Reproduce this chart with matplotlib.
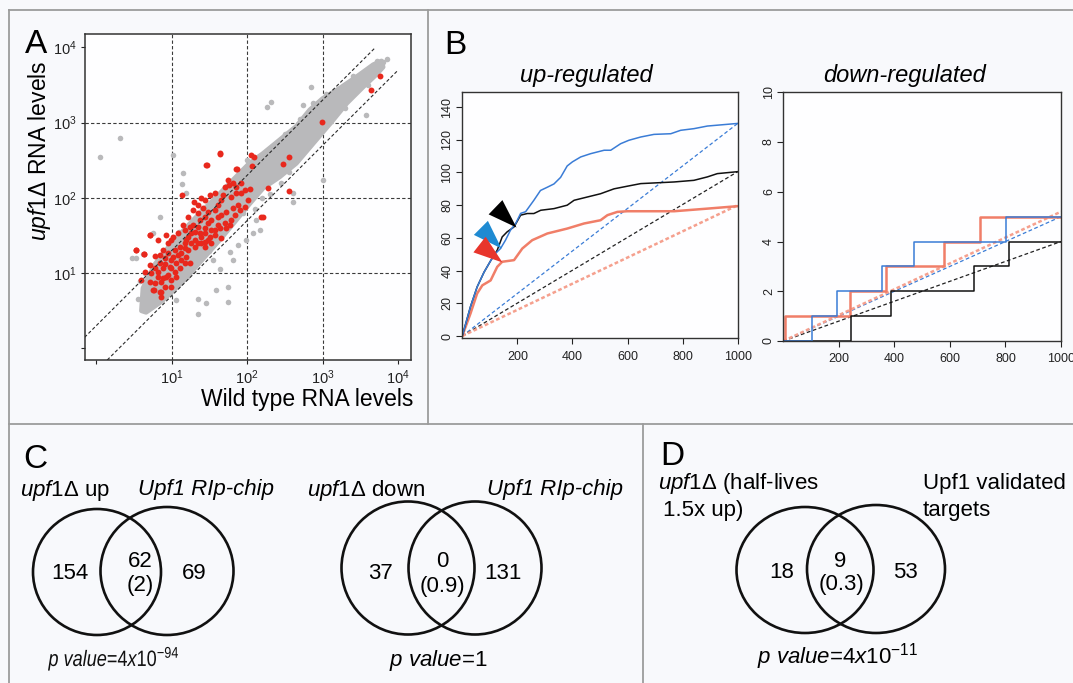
import numpy as np
import matplotlib.pyplot as plt
from matplotlib.patches import Ellipse, PathPatch
from matplotlib.markers import MarkerStyle
from matplotlib.path import Path
from matplotlib.textpath import TextPath
from matplotlib.font_manager import FontProperties
from matplotlib.transforms import Affine2D

plt.rcParams['font.family'] = ['Liberation Sans', 'DejaVu Sans']
plt.rcParams['mathtext.fontset'] = 'custom'
plt.rcParams['mathtext.rm'] = 'Liberation Sans'
plt.rcParams['mathtext.it'] = 'Liberation Sans:italic'
plt.rcParams['mathtext.bf'] = 'Liberation Sans:bold'
plt.rcParams['mathtext.sf'] = 'Liberation Sans'

W, H = 1073, 683
BG = '#F8F9FC'

# ---------------- Panel A: scatter (log10 values) ----------------
band_upper_logx = [0.60, 0.62, 0.78, 1.00, 1.30, 1.60, 2.03, 2.21, 2.43, 2.65, 2.83, 3.00, 3.23, 3.45, 3.67, 3.78]
band_upper_logy = [0.50, 0.80, 1.12, 1.40, 1.72, 2.02, 2.46, 2.59, 2.77, 2.95, 3.17, 3.32, 3.46, 3.61, 3.77, 3.82]
band_lower_logx = [3.80, 3.71, 3.54, 3.32, 3.10, 2.87, 2.65, 2.43, 2.21, 2.03, 1.85, 1.66, 1.44, 1.13, 0.86, 0.66]
band_lower_logy = [3.74, 3.64, 3.48, 3.26, 2.99, 2.72, 2.46, 2.28, 2.13, 1.92, 1.70, 1.47, 1.22, 0.87, 0.62, 0.48]

gray_logx = [0.045, 0.31, 0.53, 1.13, 1.02, 1.35, 1.75, 1.35, 2.26, 2.32, 2.85, 2.74, 3.58, 3.80,
             2.61, 2.61, 2.12, 2.17, 1.81, 1.64, 1.55, 1.06, 3.00, 1.48, 0.75, 0.84, 0.47, 0.62,
             1.99, 2.08, 1.77, 1.88, 1.15, 1.19, 2.87, 1.75, 1.59, 1.46,
             0.55, 0.58, 0.70, 0.90, 1.20, 1.50, 1.70, 1.90, 2.10, 2.30, 2.50, 2.55, 2.70, 2.95,
             3.05, 3.30, 3.40, 3.60, 3.72, 3.85, 2.00, 1.40, 1.10, 0.65, 2.40, 1.95, 2.20, 2.45]
gray_logy = [2.55, 2.80, 1.20, 2.19, 2.57, 0.45, 0.62, 0.65, 3.21, 3.28, 3.48, 3.23, 3.10, 3.81,
             1.95, 2.06, 1.70, 1.57, 1.17, 1.06, 1.17, 0.64, 2.24, 1.79, 1.53, 1.75, 1.20, 1.26,
             1.44, 1.53, 1.28, 1.37, 2.33, 2.06, 3.26, 0.82, 0.77, 0.60,
             0.65, 0.90, 0.55, 1.30, 0.95, 1.30, 1.95, 2.25, 1.85, 2.05, 2.85, 2.35, 3.05, 2.85,
             3.38, 3.20, 3.62, 3.50, 3.82, 3.85, 2.50, 1.85, 1.55, 1.00, 2.45, 1.80, 2.00, 2.20]

red_logx = [1.636, 1.468, 1.857, 2.056, 2.070, 1.141, 1.296, 1.393, 1.747, 1.756, 1.857, 1.924,
            1.968, 2.034, 1.857, 1.791, 1.658, 1.614, 1.570, 1.482, 1.415, 1.349, 1.437, 1.526,
            1.658, 1.725, 1.813, 1.791, 1.703, 1.614, 1.526, 1.437, 1.349, 1.260, 1.216, 1.305,
            1.393, 1.482, 1.570, 1.658, 1.172, 1.106, 1.039, 1.128, 1.216, 1.305, 1.393, 0.995,
            0.929, 0.818, 0.708, 0.531, 0.633, 0.774, 0.907, 0.995, 1.062, 0.973, 0.885, 0.818,
            0.951, 1.039, 1.128, 1.194, 0.730, 0.774, 0.863, 0.907, 0.752, 0.840, 0.995, 0.929,
            1.062, 2.189, 1.282, 1.194, 1.437, 1.238, 1.680, 1.482, 1.371, 1.614,
            2.99, 3.76, 3.64, 2.56, 2.47, 2.28, 2.56, 2.21, 2.09, 0.53, 0.63, 0.71, 0.76, 0.86,
            1.46, 1.64, 1.86,
            1.172, 1.238, 1.305, 1.371, 1.437, 1.504, 1.570, 1.636, 1.725, 1.769, 1.835, 1.901,
            1.968, 2.012, 1.879, 1.924, 1.813, 1.703, 1.570, 1.504, 1.437, 1.349, 1.282, 1.216,
            1.150, 1.084, 1.017, 0.951, 0.885, 0.840, 0.951, 1.017, 1.084, 1.172, 1.260, 1.349,
            1.437, 1.526, 0.840, 0.907, 0.995, 1.106, 1.172, 0.774, 0.708, 0.642, 0.818, 0.885,
            0.995, 0.863, 0.708, 0.597]
red_logy = [2.600, 2.440, 2.383, 2.570, 2.423, 2.038, 1.940, 1.993, 2.237, 2.171, 2.148, 2.193,
            2.104, 2.113, 2.060, 2.015, 1.971, 1.905, 1.838, 1.816, 1.860, 1.794, 1.750, 1.705,
            1.772, 1.816, 1.860, 1.705, 1.661, 1.639, 1.572, 1.594, 1.617, 1.528, 1.484, 1.439,
            1.484, 1.439, 1.506, 1.461, 1.395, 1.350, 1.306, 1.262, 1.306, 1.350, 1.395, 1.439,
            1.506, 1.439, 1.506, 1.306, 1.249, 1.231, 1.195, 1.173, 1.129, 1.085, 1.062, 1.018,
            0.974, 1.018, 1.173, 1.218, 0.996, 0.863, 0.885, 0.819, 0.774, 0.752, 0.907, 0.951,
            0.951, 1.750, 1.639, 1.439, 1.350, 1.129, 2.038, 1.661, 1.705, 1.750,
            3.01, 3.62, 3.43, 2.55, 2.45, 2.13, 2.09, 1.75, 2.55, 1.31, 1.25, 1.51, 0.77, 0.75,
            2.44, 2.59, 2.39,
            1.572, 1.617, 1.550, 1.528, 1.528, 1.484, 1.572, 1.594, 1.594, 1.639, 1.772, 1.838,
            1.882, 1.971, 1.905, 2.060, 2.193, 2.148, 2.060, 2.038, 1.971, 1.905, 1.838, 1.750,
            1.639, 1.528, 1.484, 1.395, 1.306, 1.240, 1.262, 1.218, 1.240, 1.328, 1.395, 1.395,
            1.417, 1.395, 1.129, 1.120, 1.062, 1.062, 1.129, 1.062, 1.107, 1.018, 0.952, 0.929,
            0.819, 0.686, 0.885, 0.907]

fold_x = [[0.7, 5000], [1.4, 10000]]
fold_y = [[1.4, 10000], [0.7, 5000]]
grid_levels = [10, 100, 1000]
log_ticks = [1, 10, 100, 1000, 10000]
log_labels = ['', '$10^1$', '$10^2$', '$10^3$', '$10^4$']

# ---------------- Panel B: cumulative overlap curves ----------------
up_blue_x = [0, 30, 54, 79, 103, 121, 139, 157, 175, 194, 212, 230, 260, 284, 309, 333, 357, 381, 400,
             430, 466, 515, 539, 575, 605, 648, 696, 757, 793, 841, 890, 1000]
up_blue_y = [0, 18, 30, 39, 46, 50.5, 53.5, 58.6, 64.7, 68.8, 75, 76, 83, 89, 91, 93, 97, 104, 106.5,
             109.5, 111.5, 113.6, 113.6, 117.6, 119.7, 121.7, 123.3, 123.7, 125.8, 126.8, 128.4, 130]
up_black_x = [0, 30, 54, 79, 103, 127, 145, 163, 188, 212, 236, 260, 285, 333, 381, 406, 454, 502,
              551, 599, 648, 769, 841, 890, 926, 1000]
up_black_y = [0, 18, 30, 39, 46, 52.5, 60.6, 63.7, 66.7, 73.9, 74.9, 74.9, 76.9, 77.9, 80, 83, 85, 87,
              90, 91.6, 93.2, 94.2, 95.2, 97.3, 99.3, 100.5]
up_red_x = [0, 30, 54, 73, 103, 127, 145, 188, 218, 254, 309, 381, 442, 502, 527, 563, 599, 769, 890, 1000]
up_red_y = [0, 13.8, 26, 31, 34, 42.3, 45.4, 46.4, 53.5, 58.6, 62.7, 65.7, 68.8, 70.8, 73.9, 75.9,
            76.3, 76.3, 77.9, 79.4]
up_expected_end = [130, 100.5, 80]          # blue, black, salmon at rank 1000

arrow_tip_x = [194, 142, 145]
arrow_tip_y = [66.7, 53.9, 45.4]
arrow_angle = [-44, -45, -38]

down_red_x = [0, 6, 240, 370, 580, 709, 1000]
down_red_y = [0, 1, 2, 3, 4, 5, 5]
down_blue_x = [0, 104, 195, 356, 471, 802, 1000]
down_blue_y = [0, 1, 2, 3, 4, 5, 5]
down_black_x = [0, 244, 388, 685, 814, 1000]
down_black_y = [0, 1, 2, 3, 4, 4]
down_expected_end = [5.0, 4.0, 5.2]         # blue, black, salmon at rank 1000

# ---------------- Panels C/D: Venn counts ----------------
venn_only_left = ['154', '37', '18']
venn_overlap = ['62', '0', '9']
venn_expected = ['(2)', '(0.9)', '(0.3)']
venn_only_right = ['69', '131', '53']
venn_pvalue = ['$\\mathit{p\\ value}$=$\\mathit{4x10^{-94}}$', '$\\mathit{p\\ value}$=$\\mathit{1}$',
               '$\\mathit{p\\ value}$=$\\mathit{4x10^{-11}}$']
venn_pvalue_width = [130, None, None]       # the first one is set narrower in the original

BLUE = '#3A7CD6'
SALMON = '#F07E68'
GRAY = '#B9B9BB'
RED = '#E8281D'

fig = plt.figure(figsize=(W / 100, H / 100), dpi=100, facecolor=BG)


def fig_rect(left, top, right, bottom):
    return [left / W, 1 - bottom / H, (right - left) / W, (bottom - top) / H]


# overlay in pixel coordinates for frames, letters and Venn diagrams
ov = fig.add_axes([0, 0, 1, 1], zorder=0)
ov.set_xlim(0, W)
ov.set_ylim(H, 0)
ov.set_axis_off()


def condensed_text(xc, baseline, s, size_pt, width_px):
    tp = TextPath((0, 0), s, size=size_pt * 100 / 72, prop=FontProperties(family='Liberation Sans'))
    ext = tp.get_extents()
    sx = width_px / ext.width
    tr = Affine2D().translate(-(ext.x0 + ext.width / 2), 0).scale(sx, -1).translate(xc, baseline)
    ov.add_patch(PathPatch(tr.transform_path(tp), fc='#111111', ec='none'))


frame_kw = dict(color='#9C9C9C', lw=1.3)
ov.plot([9, W], [10, 10], **frame_kw)
ov.plot([9, 9], [10, H], **frame_kw)
ov.plot([9, W], [424, 424], **frame_kw)
ov.plot([428, 428], [10, 424], **frame_kw)
ov.plot([643, 643], [424, H], **frame_kw)

for letter, lx, ly in [('A', 25, 53), ('B', 444, 54), ('C', 23, 468), ('D', 660, 465)]:
    ov.text(lx, ly, letter, fontsize=24, ha='left', va='baseline')

# ---- Panel A ----
axA = fig.add_axes(fig_rect(85, 34, 411, 360), zorder=1)
axA.set_facecolor('#FEFEFF')
axA.set_xscale('log')
axA.set_yscale('log')
axA.set_xlim(0.71, 14800)
axA.set_ylim(0.70, 15100)

band_x = 10 ** np.concatenate([band_upper_logx, band_lower_logx])
band_y = 10 ** np.concatenate([band_upper_logy, band_lower_logy])
axA.fill(band_x, band_y, facecolor=GRAY, edgecolor=GRAY, lw=3.5, joinstyle='round', zorder=2)
axA.scatter(10 ** np.array(gray_logx), 10 ** np.array(gray_logy), s=16, color=GRAY, lw=0, zorder=2)
axA.scatter(10 ** np.array(red_logx), 10 ** np.array(red_logy), s=18, color=RED, lw=0, zorder=3)

for g in grid_levels:
    axA.axvline(g, color='#3A3A3A', lw=0.8, ls=(0, (3, 2)), zorder=1)
    axA.axhline(g, color='#3A3A3A', lw=0.8, ls=(0, (3, 2)), zorder=1)
for fx, fy in zip(fold_x, fold_y):
    axA.plot(fx, fy, color='#2A2A2A', lw=0.8, ls=(0, (3, 2)), zorder=4)

axA.set_xticks(log_ticks)
axA.set_xticklabels(log_labels)
axA.set_yticks(log_ticks)
axA.set_yticklabels(log_labels)
axA.minorticks_off()
axA.tick_params(labelsize=10.5, length=3, width=0.8, pad=3, colors='#222222')
for sp in axA.spines.values():
    sp.set_color('#333333')
    sp.set_linewidth(1.1)

ov.text(40, 151, '$\\mathit{upf1}$\u0394 RNA levels', fontsize=16.5, rotation=90,
        ha='center', va='center')
ov.text(413, 406, 'Wild type RNA levels', fontsize=16.5, ha='right', va='baseline')

# ---- Panel B ----
tri = Path([(0, 0), (-1, 0.34), (-1, -0.34), (0, 0)],
           [Path.MOVETO, Path.LINETO, Path.LINETO, Path.CLOSEPOLY])


def r_style(ax, yticks):
    ax.set_facecolor('#FEFEFF')
    for sp in ax.spines.values():
        sp.set_color('#333333')
        sp.set_linewidth(1.0)
    ax.set_xticks([200, 400, 600, 800, 1000])
    ax.set_yticks(yticks)
    ax.tick_params(direction='out', length=4, width=0.8, labelsize=9, pad=5, colors='#222222')
    ax.tick_params(axis='y', pad=2)
    for lab in ax.get_yticklabels():
        lab.set_rotation(90)
        lab.set_va('center')
        lab.set_ha('right')


axU = fig.add_axes(fig_rect(461.7, 91.7, 737.7, 338.3), zorder=1)
axU.set_xlim(-2, 1000)
axU.set_ylim(-1.4, 149.4)
r_style(axU, [0, 20, 40, 60, 80, 100, 120, 140])

exp_styles = [dict(color=BLUE, lw=0.9, ls=(0, (3, 2))),
              dict(color='#222222', lw=0.9, ls=(0, (3, 2))),
              dict(color='#F5A08E', lw=1.8, ls=(0, (1.5, 1)))]
for end, st in zip(up_expected_end, exp_styles):
    axU.plot([0, 1000], [0, end], **st)
axU.plot(up_red_x, up_red_y, color=SALMON, lw=1.8)
axU.plot(up_black_x, up_black_y, color='#111111', lw=1.1)
axU.plot(up_blue_x, up_blue_y, color=BLUE, lw=1.1)
for tx, ty, ang, col in zip(arrow_tip_x, arrow_tip_y, arrow_angle, ['#000000', '#1E8AD2', '#E8352C']):
    mk = MarkerStyle(tri, transform=Affine2D().rotate_deg(ang))
    axU.plot([tx], [ty], marker=mk, markersize=42, color=col, mew=0, zorder=5, clip_on=False)
axU.text(0.453, 1.039, 'up-regulated', transform=axU.transAxes, fontsize=17, style='italic',
         ha='center', va='baseline')

axD = fig.add_axes(fig_rect(783.3, 92.3, 1061, 341), zorder=1)
axD.set_xlim(0, 1000)
axD.set_ylim(0, 10)
r_style(axD, [0, 2, 4, 6, 8, 10])
for end, st in zip(down_expected_end, exp_styles):
    axD.plot([0, 1000], [0, end], **st)
axD.step(down_red_x, down_red_y, where='post', color=SALMON, lw=1.8)
axD.step(down_black_x, down_black_y, where='post', color='#111111', lw=1.1)
axD.step(down_blue_x, down_blue_y, where='post', color=BLUE, lw=1.1)
axD.text(0.435, 1.041, 'down-regulated', transform=axD.transAxes, fontsize=17, style='italic',
         ha='center', va='baseline')

# ---- Panels C and D: Venn diagrams ----
venn_circles = [[(97, 572, 128, 126), (167, 571, 133, 128)],
                [(408, 568, 133, 133), (475, 568, 133, 133)],
                [(805, 570, 137, 126), (876, 569, 138, 128)]]
for pair in venn_circles:
    for cx, cy, w, h in pair:
        ov.add_patch(Ellipse((cx, cy), w, h, fill=False, lw=1.9, ec='#111111'))

num_pos = [((70, 579), (140, 567), (140, 591), (194, 579), (113, 666)),
           ((380, 579), (442, 567), (442, 592), (503, 579), (438, 666)),
           ((782, 578), (840, 567), (842, 590), (905, 578), (838, 663))]
for i, pos in enumerate(num_pos):
    kw = dict(fontsize=16, ha='center', va='baseline')
    ov.text(*pos[0], venn_only_left[i], **kw)
    ov.text(*pos[1], venn_overlap[i], **kw)
    ov.text(*pos[2], venn_expected[i], **kw)
    ov.text(*pos[3], venn_only_right[i], **kw)
    if venn_pvalue_width[i]:
        condensed_text(*pos[4], venn_pvalue[i], 16, venn_pvalue_width[i])
    else:
        ov.text(*pos[4], venn_pvalue[i], fontsize=16, ha='center', va='baseline')

ov.text(20, 496, '$\\mathit{upf1}$\u0394 up', fontsize=16, ha='left', va='baseline')
ov.text(206, 495, 'Upf1 RIp-chip', fontsize=16, style='italic', ha='center', va='baseline')
ov.text(307, 496, '$\\mathit{upf1}$\u0394 down', fontsize=16, ha='left', va='baseline')
ov.text(555, 495, 'Upf1 RIp-chip', fontsize=16, style='italic', ha='center', va='baseline')
ov.text(658, 489, '$\\mathit{upf1}$\u0394 (half-lives', fontsize=16, ha='left', va='baseline')
ov.text(663, 516, '1.5x up)', fontsize=16, ha='left', va='baseline')
ov.text(923, 489, 'Upf1 validated', fontsize=16, ha='left', va='baseline')
ov.text(923, 516, 'targets', fontsize=16, ha='left', va='baseline')

fig.savefig('out.png', dpi=100, facecolor=BG)
